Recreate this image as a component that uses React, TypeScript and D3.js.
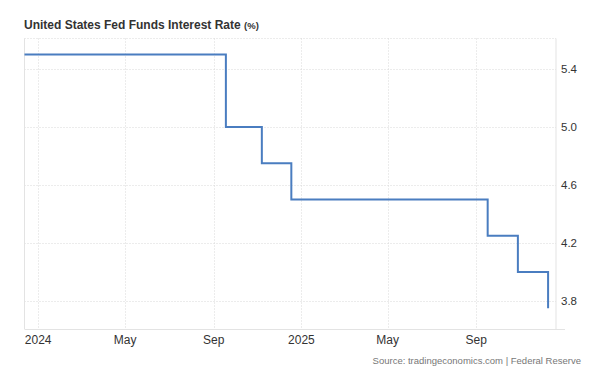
import { useEffect, useRef } from "react";
import * as d3 from "d3";

// FOMC decisions (upper bound, %) from Dec 2023 to Dec 2025
const meetingDates = [
  "2023-12-13", "2024-01-31", "2024-03-20", "2024-05-01", "2024-06-12",
  "2024-07-31", "2024-09-18", "2024-11-07", "2024-12-18", "2025-01-29",
  "2025-03-19", "2025-05-07", "2025-06-18", "2025-07-30", "2025-09-17",
  "2025-10-29", "2025-12-10",
];
const rates = [
  5.5, 5.5, 5.5, 5.5, 5.5,
  5.5, 5.0, 4.75, 4.5, 4.5,
  4.5, 4.5, 4.5, 4.5, 4.25,
  4.0, 3.75,
];
const yTicks = [3.8, 4.2, 4.6, 5.0, 5.4];
const xTickDates = ["2024-01-01", "2024-05-01", "2024-09-01", "2025-01-01", "2025-05-01", "2025-09-01"];
const xTickLabels = ["2024", "May", "Sep", "2025", "May", "Sep"];

const parse = d3.utcParse("%Y-%m-%d");

const App = () => {
  const svgRef = useRef<SVGSVGElement | null>(null);

  useEffect(() => {
    const svg = d3.select(svgRef.current);
    svg.selectAll("*").remove();

    const width = 591;
    const height = 375;
    const left = 24.5, right = 556, top = 38.5, bottom = 329;
    const font = "'Liberation Sans', Arial, Helvetica, sans-serif";

    const data = meetingDates.map((d, i) => ({ date: parse(d) as Date, value: rates[i] }));

    const x = d3.scaleUtc()
      .domain([parse("2023-12-13") as Date, parse("2025-12-21") as Date])
      .range([left, right]);
    const y = d3.scaleLinear().domain([3.607, 5.61]).range([bottom, top]);

    // title
    const title = svg.append("text")
      .attr("x", 24).attr("y", 29)
      .attr("font-family", font).attr("font-size", 12).attr("font-weight", "bold")
      .attr("fill", "#333");
    title.append("tspan").text("United States Fed Funds Interest Rate ");
    title.append("tspan").attr("font-size", 9.5).text("(%)");

    // horizontal grid
    svg.append("g").selectAll("line")
      .data(yTicks)
      .join("line")
      .attr("x1", left).attr("x2", right)
      .attr("y1", d => Math.round(y(d)) + 0.5).attr("y2", d => Math.round(y(d)) + 0.5)
      .attr("stroke", "#d9d9d9").attr("stroke-dasharray", "1,2");
    svg.append("line")
      .attr("x1", left).attr("x2", right).attr("y1", top).attr("y2", top)
      .attr("stroke", "#d9d9d9").attr("stroke-dasharray", "1,2");

    // vertical grid
    svg.append("g").selectAll("line")
      .data(xTickDates)
      .join("line")
      .attr("x1", d => Math.round(x(parse(d) as Date)) + 0.5)
      .attr("x2", d => Math.round(x(parse(d) as Date)) + 0.5)
      .attr("y1", top).attr("y2", bottom)
      .attr("stroke", "#d9d9d9").attr("stroke-dasharray", "1,2");

    // frame
    svg.append("line").attr("x1", left).attr("x2", left).attr("y1", top).attr("y2", bottom)
      .attr("stroke", "#e3e3e3");
    svg.append("line").attr("x1", right).attr("x2", right).attr("y1", top).attr("y2", bottom)
      .attr("stroke", "#e3e3e3");
    svg.append("line").attr("x1", left).attr("x2", 565).attr("y1", bottom + 0.5).attr("y2", bottom + 0.5)
      .attr("stroke", "#e3e3e3");

    // x labels
    svg.append("g").selectAll("text")
      .data(xTickDates)
      .join("text")
      .attr("x", d => x(parse(d) as Date))
      .attr("y", 344)
      .attr("text-anchor", "middle")
      .attr("font-family", font).attr("font-size", 12).attr("fill", "#333")
      .text((_, i) => xTickLabels[i]);

    // y labels
    svg.append("g").selectAll("text")
      .data(yTicks)
      .join("text")
      .attr("x", 561)
      .attr("y", d => y(d) + 4)
      .attr("font-family", font).attr("font-size", 11.5).attr("fill", "#333")
      .text(d => d.toFixed(1));

    // step line
    const line = d3.line<{ date: Date; value: number }>()
      .x(d => x(d.date))
      .y(d => y(d.value))
      .curve(d3.curveStepAfter);
    svg.append("path")
      .datum(data)
      .attr("d", line)
      .attr("fill", "none")
      .attr("stroke", "#4a7dc0")
      .attr("stroke-width", 2);

    // source
    svg.append("text")
      .attr("x", 581).attr("y", 364)
      .attr("text-anchor", "end")
      .attr("font-family", font).attr("font-size", 9.5).attr("fill", "#777")
      .text("Source: tradingeconomics.com | Federal Reserve");

    svg.attr("width", width).attr("height", height);
  }, []);

  return (
    <svg ref={svgRef} width={591} height={375}
      style={{ position: "absolute", left: 0, top: 0, display: "block", background: "#fff" }} />
  );
};

export default App;
